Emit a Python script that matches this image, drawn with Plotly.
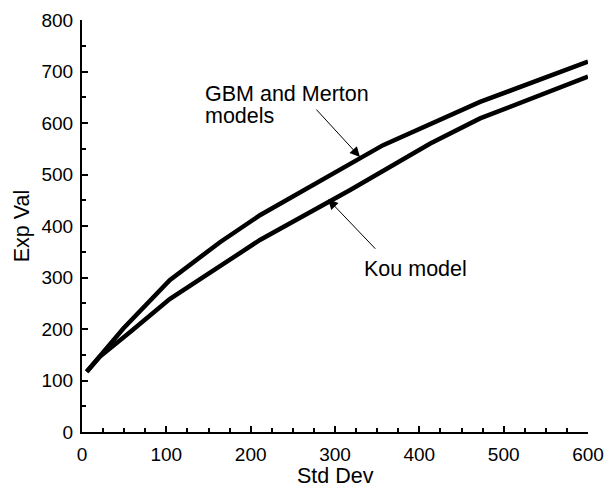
import plotly.graph_objects as go

# Data
gbm_std = [5.6, 49, 104, 164, 211, 357, 472, 600]
gbm_val = [117, 201, 295, 369, 421, 557, 641, 719]

kou_std = [5.6, 21, 60, 104, 160, 211, 318, 413, 472, 600]
kou_val = [117, 146, 198, 258, 318, 373, 470, 560, 609, 690]

x_ticks = [0, 100, 200, 300, 400, 500, 600]
y_ticks = [0, 100, 200, 300, 400, 500, 600, 700, 800]

FONT = "Liberation Sans, Arial, Helvetica, sans-serif"

fig = go.Figure()
fig.add_trace(go.Scatter(x=gbm_std, y=gbm_val, mode="lines", name="GBM and Merton models",
                         line=dict(color="black", width=4.5)))
fig.add_trace(go.Scatter(x=kou_std, y=kou_val, mode="lines", name="Kou model",
                         line=dict(color="black", width=4.5)))

axis_common = dict(
    showgrid=False, zeroline=False, showline=True, linecolor="black", linewidth=2,
    ticks="inside", ticklen=6, tickwidth=1.5, tickcolor="black",
    tickfont=dict(family=FONT, size=19, color="black"),
    mirror=False, automargin=False,
)

fig.update_xaxes(range=[0, 600], tickvals=x_ticks, ticktext=[str(v) for v in x_ticks],
                 minor=dict(dtick=25, ticks="inside", ticklen=4, tickwidth=1.5, tickcolor="black"),
                 ticklabelstandoff=4,
                 **axis_common)
fig.update_yaxes(range=[0, 800], tickvals=y_ticks, ticktext=[str(v) for v in y_ticks],
                 title=dict(text="Exp Val", font=dict(family=FONT, size=21.5, color="black"), standoff=6),
                 minor=dict(dtick=50, ticks="inside", ticklen=4, tickwidth=1.5, tickcolor="black"),
                 ticklabelstandoff=3,
                 **axis_common)

ann_font = dict(family=FONT, size=21.5, color="black")
annotations = [
    dict(x=0.5, y=-0.108, xref="paper", yref="paper", text="Std Dev", showarrow=False,
         xanchor="center", yanchor="middle", font=ann_font),
    dict(x=143.5, y=657, xref="x", yref="y", text="GBM and Merton", showarrow=False,
         xanchor="left", yanchor="middle", font=ann_font),
    dict(x=143.5, y=613, xref="x", yref="y", text="models", showarrow=False,
         xanchor="left", yanchor="middle", font=ann_font),
    dict(x=332, y=317, xref="x", yref="y", text="Kou model", showarrow=False,
         xanchor="left", yanchor="middle", font=ann_font),
    dict(x=329.6, y=534, ax=276.3, ay=629, xref="x", yref="y", axref="x", ayref="y",
         text="", showarrow=True, arrowhead=2, arrowsize=2, arrowwidth=1, arrowcolor="black"),
    dict(x=291.7, y=452, ax=349.5, ay=353, xref="x", yref="y", axref="x", ayref="y",
         text="", showarrow=True, arrowhead=2, arrowsize=2, arrowwidth=1, arrowcolor="black"),
]

fig.update_layout(
    width=606, height=487,
    margin=dict(l=82, r=18, t=20, b=55),
    paper_bgcolor="white", plot_bgcolor="white",
    showlegend=False,
    annotations=annotations,
    font=dict(family=FONT, color="black"),
)

# Remove the default page margin so the figure fills the 606x487 window exactly.
fig.write_html("out.html",
               config={"displayModeBar": False},
               post_script="document.body.style.margin='0';document.body.style.overflow='hidden';")
